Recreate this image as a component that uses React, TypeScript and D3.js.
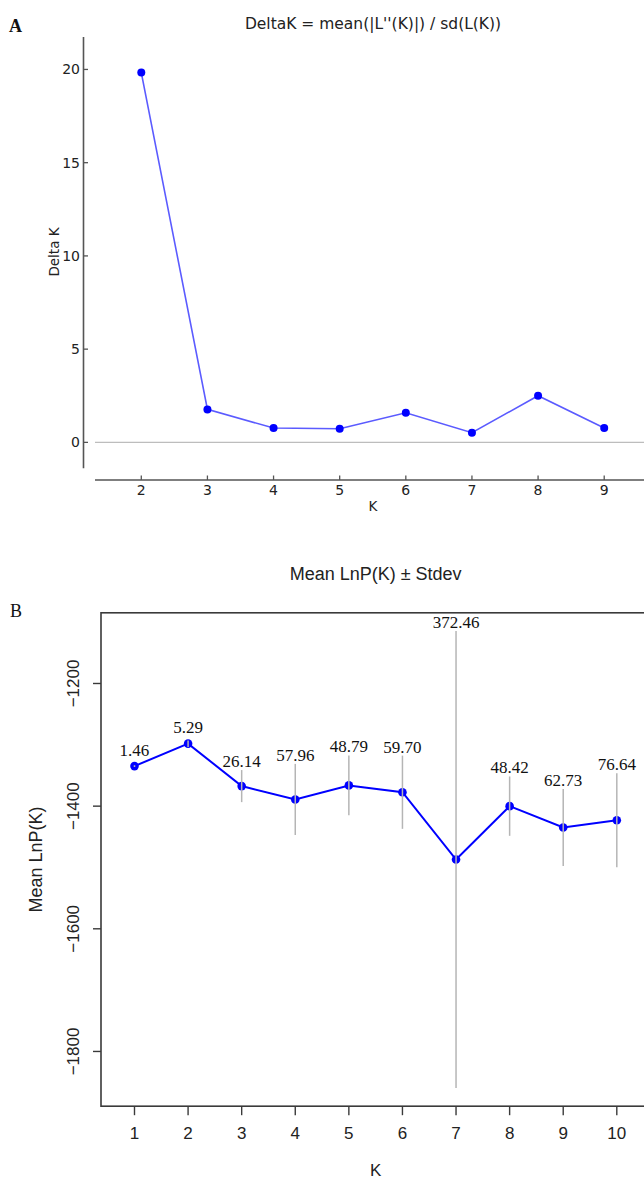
import React from "react";
import * as d3 from "d3";

// Panel A data: Delta K by K
const deltaKK = [2, 3, 4, 5, 6, 7, 8, 9];
const deltaKValues = [19.83, 1.77, 0.77, 0.73, 1.59, 0.52, 2.5, 0.77];
const deltaYTicks = [0, 5, 10, 15, 20];

// Panel B data: Mean LnP(K) ± Stdev
const lnK = [1, 2, 3, 4, 5, 6, 7, 8, 9, 10];
const lnMean = [-1334.7, -1298.1, -1367.3, -1389.1, -1366.2, -1377.3, -1487.0, -1400.0, -1434.8, -1422.9];
const lnSd = [1.46, 5.29, 26.14, 57.96, 48.79, 59.7, 372.46, 48.42, 62.73, 76.64];
const lnSdLabels = ["1.46", "5.29", "26.14", "57.96", "48.79", "59.70", "372.46", "48.42", "62.73", "76.64"];
const lnYTicks = [-1200, -1400, -1600, -1800];

const W = 644;
const H = 1181;

export default function App() {
  // ---------- Panel A ----------
  const xA = d3.scaleLinear().domain([1.3, 9.7]).range([95, 650.5]);
  const yA = d3.scaleLinear().domain([-1.39, 21.74]).range([468.3, 37]);
  const ptsA = deltaKK.map((k, i) => [xA(k), yA(deltaKValues[i])] as [number, number]);
  const lineA = d3.line()(ptsA) || "";
  const fontA = "'DejaVu Sans', sans-serif";
  const axisColA = "#555";

  // ---------- Panel B ----------
  const lo = d3.min(lnMean.map((m, i) => m - lnSd[i])) as number;
  const hi = d3.max(lnMean.map((m, i) => m + lnSd[i])) as number;
  const pad = (hi - lo) * 0.04;
  const xB = d3.scaleLinear().domain([0.375, 10.625]).range([101, 650.3]);
  const yB = d3.scaleLinear().domain([lo - pad, hi + pad]).range([1106.2, 612.8]);
  const ptsB = lnK.map((k, i) => [xB(k), yB(lnMean[i])] as [number, number]);
  const lineB = d3.line()(ptsB) || "";
  const fontB = "'Liberation Sans', Arial, sans-serif";
  const serif = "'Liberation Serif', 'Times New Roman', serif";
  const [bx0, bx1] = xB.range();
  const [by0, by1] = [yB.range()[1], yB.range()[0]];

  return (
    <svg
      width={W}
      height={H}
      viewBox={`0 0 ${W} ${H}`}
      style={{ position: "absolute", left: 0, top: 0, background: "#fff" }}
    >
      <rect x={0} y={0} width={W} height={H} fill="#fff" />

      {/* ================= Panel A ================= */}
      <text x={9} y={32} fontFamily={serif} fontSize={18} fontWeight="bold" fill="#111">A</text>
      <text x={373} y={29} textAnchor="middle" fontFamily={fontA} fontSize={15.5} fill="#222">
        DeltaK = mean(|L''(K)|) / sd(L(K))
      </text>

      {/* y axis */}
      <line x1={83.5} x2={83.5} y1={yA.range()[1]} y2={yA.range()[0]} stroke={axisColA} strokeWidth={1.6} />
      {deltaYTicks.map((t) => (
        <g key={"ya" + t}>
          <line x1={83.5} x2={88} y1={yA(t)} y2={yA(t)} stroke={axisColA} strokeWidth={1.3} />
          <text x={80} y={yA(t) + 5} textAnchor="end" fontFamily={fontA} fontSize={14} fill="#222">{t}</text>
        </g>
      ))}
      <text
        transform={`translate(59, ${252}) rotate(-90)`}
        textAnchor="middle"
        fontFamily={fontA}
        fontSize={13.5}
        fill="#222"
      >
        Delta K
      </text>

      {/* zero line */}
      <line x1={xA.range()[0]} x2={W} y1={yA(0)} y2={yA(0)} stroke="#bdbdbd" strokeWidth={1.2} />

      {/* x axis */}
      <line x1={xA.range()[0]} x2={W} y1={480} y2={480} stroke={axisColA} strokeWidth={1.6} />
      {deltaKK.map((k) => (
        <g key={"xa" + k}>
          <line x1={xA(k)} x2={xA(k)} y1={480} y2={475.5} stroke={axisColA} strokeWidth={1.3} />
          <text x={xA(k)} y={495} textAnchor="middle" fontFamily={fontA} fontSize={14} fill="#222">{k}</text>
        </g>
      ))}
      <text x={373} y={511} textAnchor="middle" fontFamily={fontA} fontSize={13.5} fill="#222">K</text>

      {/* series */}
      <path d={lineA} fill="none" stroke="#5b5bff" strokeWidth={1.6} />
      {ptsA.map(([x, y], i) => (
        <circle key={"pa" + i} cx={x} cy={y} r={4} fill="#0000ff" />
      ))}

      {/* ================= Panel B ================= */}
      <text x={10} y={617} fontFamily={serif} fontSize={18} fill="#111">B</text>
      <text x={(bx0 + bx1) / 2} y={580} textAnchor="middle" fontFamily={fontB} fontSize={18} fill="#222">
        Mean LnP(K) ± Stdev
      </text>

      {/* box */}
      <rect x={bx0} y={by0} width={bx1 - bx0} height={by1 - by0} fill="none" stroke="#3a3a3a" strokeWidth={1.6} />

      {/* y axis ticks */}
      {lnYTicks.map((t) => (
        <g key={"yb" + t}>
          <line x1={bx0} x2={bx0 - 8} y1={yB(t)} y2={yB(t)} stroke="#3a3a3a" strokeWidth={1.4} />
          <text
            transform={`translate(78.5, ${yB(t)}) rotate(-90)`}
            textAnchor="middle"
            fontFamily={fontB}
            fontSize={17}
            fill="#222"
          >
            {"\u2212" + Math.abs(t)}
          </text>
        </g>
      ))}
      <text
        transform={`translate(42, ${(by0 + by1) / 2}) rotate(-90)`}
        textAnchor="middle"
        fontFamily={fontB}
        fontSize={18}
        fill="#222"
      >
        Mean LnP(K)
      </text>

      {/* x axis ticks */}
      {lnK.map((k) => (
        <g key={"xb" + k}>
          <line x1={xB(k)} x2={xB(k)} y1={by1} y2={by1 + 9} stroke="#3a3a3a" strokeWidth={1.4} />
          <text x={xB(k)} y={1139} textAnchor="middle" fontFamily={fontB} fontSize={17} fill="#222">{k}</text>
        </g>
      ))}
      <text x={(bx0 + bx1) / 2} y={1176} textAnchor="middle" fontFamily={fontB} fontSize={17} fill="#222">K</text>

      {/* series line and points */}
      <path d={lineB} fill="none" stroke="#0000ff" strokeWidth={2} />
      {ptsB.map(([x, y], i) => (
        <circle key={"pb" + i} cx={x} cy={y} r={4.3} fill="#0000ff" />
      ))}

      {/* error bars */}
      {lnK.map((k, i) => (
        <line
          key={"eb" + k}
          x1={xB(k)}
          x2={xB(k)}
          y1={yB(lnMean[i] + lnSd[i])}
          y2={yB(lnMean[i] - lnSd[i])}
          stroke="#b5b5b5"
          strokeWidth={1.5}
        />
      ))}

      {/* sd labels */}
      {lnK.map((k, i) => {
        const cy = Math.min(yB(lnMean[i] + lnSd[i]) - 8.5, yB(lnMean[i]) - 16);
        return (
          <text
            key={"lb" + k}
            x={xB(k)}
            y={cy + 5.5}
            textAnchor="middle"
            fontFamily={serif}
            fontSize={17}
            fill="#111"
          >
            {lnSdLabels[i]}
          </text>
        );
      })}
    </svg>
  );
}
